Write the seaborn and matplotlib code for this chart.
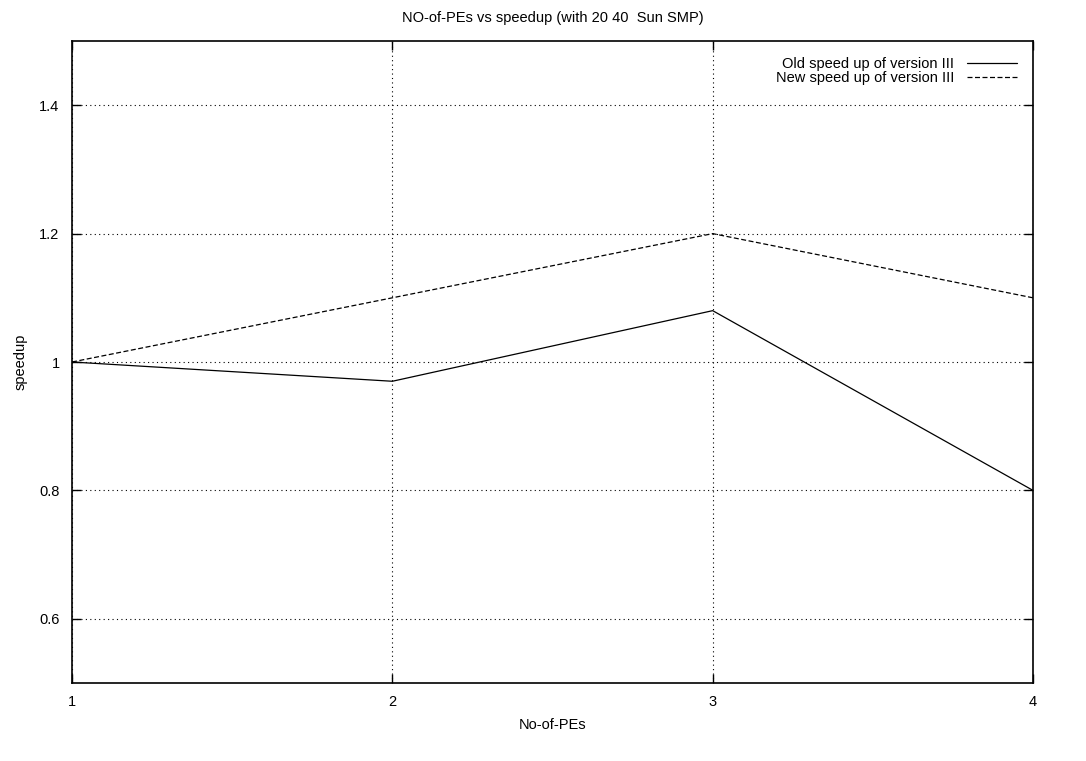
import pandas as pd
import matplotlib
matplotlib.use('Agg')
import matplotlib.pyplot as plt
import seaborn as sns

# ── data ──────────────────────────────────────────
pes = [1, 2, 3, 4]
old_speedup = [1.0, 0.97, 1.08, 0.80]
new_speedup = [1.0, 1.10, 1.20, 1.10]
series_names = ['Old speed up of version III', 'New speed up of version III']

df = pd.DataFrame({
    'PEs': pes * 2,
    'speedup': old_speedup + new_speedup,
    'series': [series_names[0]] * len(pes) + [series_names[1]] * len(pes),
})

sns.set_style('white')
plt.rcParams['font.family'] = ['Liberation Sans', 'DejaVu Sans']
plt.rcParams['text.color'] = 'black'
plt.rcParams['axes.labelcolor'] = 'black'
plt.rcParams['xtick.color'] = 'black'
plt.rcParams['ytick.color'] = 'black'

fig = plt.figure(figsize=(10.86, 7.61), dpi=100)
ax = fig.add_axes([0.0663, 0.1025, 0.8849, 0.8436])

sns.lineplot(data=df, x='PEs', y='speedup', hue='series', style='series',
             palette=['black', 'black'], dashes=[(None, None), (4, 2)],
             linewidth=0.9, ax=ax, legend=False)

ax.set_xlim(1, 4)
ax.set_ylim(0.5, 1.5)
ax.set_xticks(pes)
ax.set_xticklabels(['1', '2', '3', '4'])
ax.set_yticks([0.6, 0.8, 1.0, 1.2, 1.4])
ax.set_yticklabels(['0.6', '0.8', '1', '1.2', '1.4'])
ax.grid(True, linestyle=(0, (1, 3)), color='black', linewidth=0.8)
ax.tick_params(direction='in', length=6.5, width=1.0, labelsize=10.5, pad=9,
               top=True, right=True, bottom=True, left=True)
for s in ax.spines.values():
    s.set_color('black')
    s.set_linewidth(1.2)

ax.set_xlabel('No-of-PEs', fontsize=10.5, labelpad=6)
ax.set_ylabel('speedup', fontsize=10.5, labelpad=8)
ax.set_title('NO-of-PEs vs speedup (with 20 40  Sun SMP)', fontsize=10.5, pad=14)

# gnuplot-style key: text on the left, line sample on the right
handles = [plt.Line2D([], [], color='black', lw=0.9),
           plt.Line2D([], [], color='black', lw=0.9, dashes=(4, 2))]
leg = ax.legend(handles, series_names, loc='upper right', frameon=True,
                fontsize=10.5, markerfirst=False, handlelength=3.4,
                borderaxespad=0.8, labelspacing=0.0, handletextpad=0.9,
                borderpad=0.3)
leg.get_frame().set_edgecolor('white')
leg.get_frame().set_facecolor('white')
leg.get_frame().set_alpha(1)

fig.savefig('out.png', dpi=100)
